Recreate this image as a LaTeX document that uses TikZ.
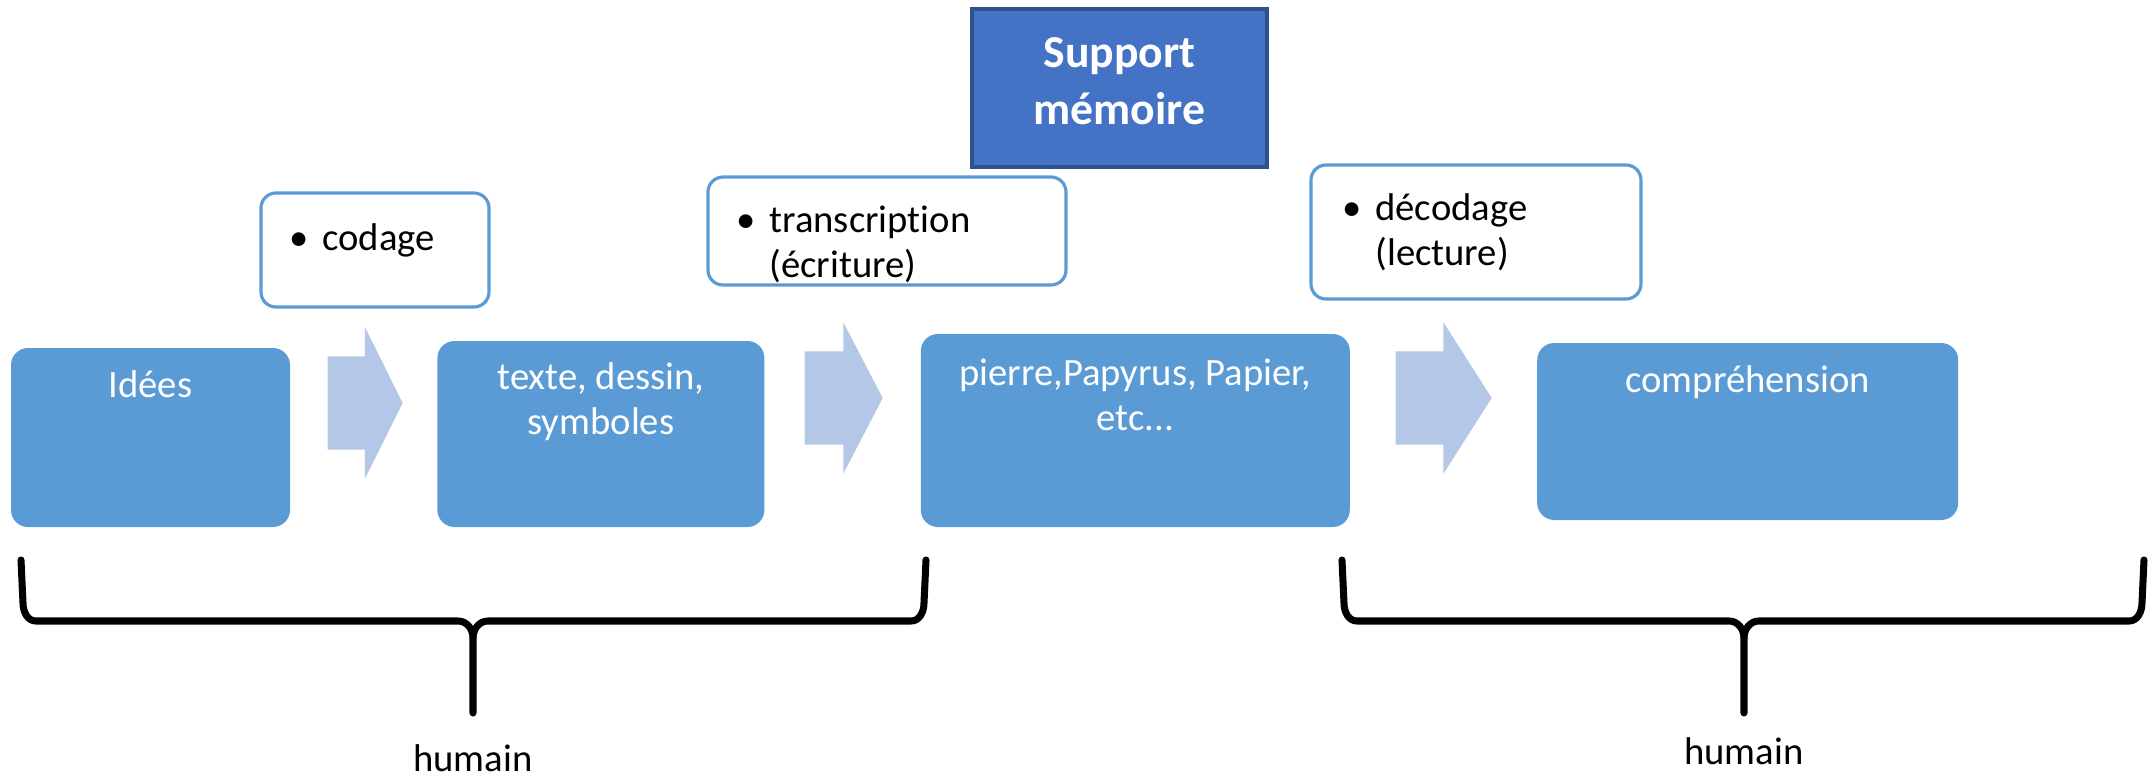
\documentclass[tikz,border=0pt]{standalone}
\usepackage{fontspec}
\setmainfont{Carlito}[Ligatures=NoCommon]
\usepackage{tikz}
\usetikzlibrary{shapes.arrows, positioning}
\definecolor{stageblue}{HTML}{5B9BD5}
\definecolor{flowblue}{HTML}{B4C7E7}
\definecolor{supportblue}{HTML}{4472C4}
\definecolor{supportedge}{HTML}{2F528F}
\tikzstyle{stage} = [rectangle, rounded corners=0.17cm, fill=stageblue, inner sep=0pt]
\tikzstyle{note} = [rectangle, rounded corners=0.15cm, fill=white, draw=stageblue, line width=0.9pt, inner sep=0pt]
\tikzstyle{flow} = [single arrow, fill=flowblue, inner xsep=0pt, inner ysep=0.46cm, single arrow head extend=0.29cm, minimum width=0pt, anchor=tail]
\tikzstyle{words} = [font=\fontsize{11}{12.8}\selectfont, inner sep=0pt]
\tikzstyle{whitewords} = [words, text=white, align=flush center, anchor=base]
\tikzstyle{accolade} = [line width=2pt, line cap=round, line join=round]

\begin{document}
\begin{tikzpicture}
    \useasboundingbox (0,0) rectangle (21.52,7.78);
    % Stages
    \node[stage, minimum width=2.79cm, minimum height=1.79cm] (idees) at (1.505,3.405) {};
    \node[stage, minimum width=3.27cm, minimum height=1.86cm, right=1.46cm of idees.south east, anchor=south west] (texte) {};
    \node[stage, minimum width=4.29cm, minimum height=1.93cm, right=1.55cm of texte.south east, anchor=south west] (pierre) {};
    \node[stage, minimum width=4.21cm, minimum height=1.77cm, above right=0.07cm and 1.86cm of pierre.south east, anchor=south west] (comprehension) {};

    \node[whitewords, text width=2.6cm] (idees-t) at ([yshift=-0.5cm]idees.north) {Idées};
    \node[whitewords, text width=3.1cm] (texte-t) at ([yshift=-0.49cm]texte.north) {texte, dessin,\\symboles};
    \node[whitewords, text width=4.1cm] (pierre-t) at ([yshift=-0.52cm]pierre.north) {pierre,Papyrus, Papier,\\etc...};
    \node[whitewords, text width=4cm] (comprehension-t) at ([yshift=-0.5cm]comprehension.north) {compréhension};

    % Flow arrows
    \node[flow, minimum height=0.75cm, single arrow tip angle=127] (flow1) at (3.27,3.75) {};
    \node[flow, minimum height=0.78cm, single arrow tip angle=125] (flow2) at (8.04,3.80) {};
    \node[flow, minimum height=0.96cm, single arrow tip angle=115] (flow3) at (13.95,3.80) {};

    % Notes
    \node[note, minimum width=2.28cm, minimum height=1.14cm] (codage) at (3.75,5.28) {};
    \node[note, minimum width=3.58cm, minimum height=1.08cm] (transcription) at (8.87,5.47) {};
    \node[note, minimum width=3.30cm, minimum height=1.34cm] (decodage) at (14.76,5.46) {};

    \node[words, anchor=base west] (codage-t) at ([shift={(0.29cm,-0.59cm)}]codage.north west)
        {\begin{tabular}[t]{@{}l@{\hspace{4pt}}l@{}}• & codage\end{tabular}};
    \node[words, anchor=base west] (transcription-t) at ([shift={(0.29cm,-0.57cm)}]transcription.north west)
        {\begin{tabular}[t]{@{}l@{\hspace{4pt}}l@{}}• & transcription\\ & (écriture)\end{tabular}};
    \node[words, anchor=base west] (decodage-t) at ([shift={(0.32cm,-0.57cm)}]decodage.north west)
        {\begin{tabular}[t]{@{}l@{\hspace{4pt}}l@{}}• & décodage\\ & (lecture)\end{tabular}};

    % Support
    \node[rectangle, fill=supportblue, draw=supportedge, line width=1pt, minimum width=2.95cm, minimum height=1.58cm] (support) at (11.195,6.90) {};
    \node[whitewords, font=\fontsize{13}{16.2}\selectfont\bfseries, text width=2.8cm] (support-t) at ([yshift=-0.6cm]support.north) {Support\\mémoire};

    % Braces
    \coordinate (left-tip) at (4.73,0.65);
    \coordinate (right-tip) at (17.44,0.65);
    \draw[accolade] (0.21,2.18) -- (0.23,1.75) to[out=-90,in=180] (0.36,1.57) -- (4.58,1.57) to[out=0,in=90] (4.73,1.40) -- (left-tip);
    \draw[accolade] (9.26,2.18) -- (9.24,1.75) to[out=-90,in=0] (9.11,1.57) -- (4.88,1.57) to[out=180,in=90] (4.73,1.40);
    \draw[accolade] (13.42,2.18) -- (13.44,1.75) to[out=-90,in=180] (13.57,1.57) -- (17.29,1.57) to[out=0,in=90] (17.44,1.40) -- (right-tip);
    \draw[accolade] (21.44,2.18) -- (21.42,1.75) to[out=-90,in=0] (21.29,1.57) -- (17.59,1.57) to[out=180,in=90] (17.44,1.40);

    \node[words, below=0.31cm of left-tip] (humain-left) {humain};
    \node[words, below=0.24cm of right-tip] (humain-right) {humain};
\end{tikzpicture}
\end{document}
